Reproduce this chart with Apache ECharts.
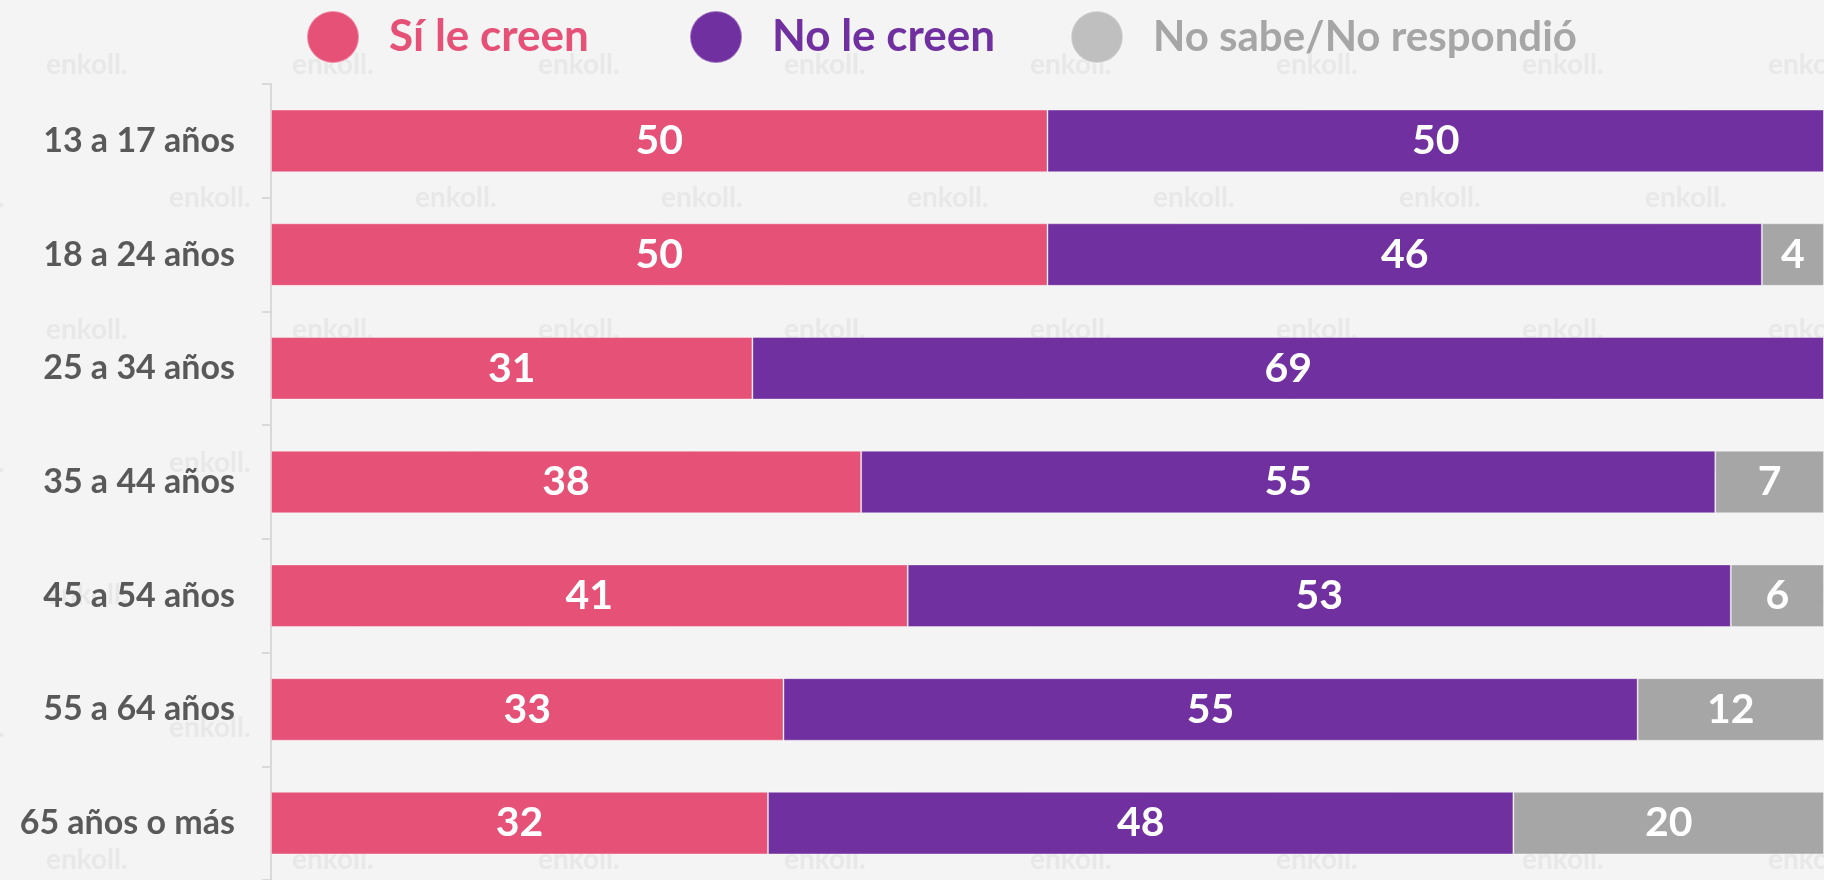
<!DOCTYPE html>
<html>
<head>
<meta charset="utf-8">
<script src="https://cdn.jsdelivr.net/npm/echarts@6/dist/echarts.min.js"></script>
<style>
html,body{margin:0;padding:0;background:#f4f4f4;}
#c{width:1824px;height:880px;}
</style>
</head>
<body>
<div id="c"></div>
<script>
const categories = ['13 a 17 años','18 a 24 años','25 a 34 años','35 a 44 años','45 a 54 años','55 a 64 años','65 años o más'];
const siLeCreen = [50, 50, 31, 38, 41, 33, 32];
const noLeCreen = [50, 46, 69, 55, 53, 55, 48];
const noSabe = [0, 4, 0, 7, 6, 12, 20];
const seriesNames = ['Sí le creen', 'No le creen', 'No sabe/No respondió'];
const barColors = ['#E65277', '#7030A0', '#A6A6A6'];
const legendIconColors = ['#E65277', '#7030A0', '#BFBFBF'];
const legendTextColors = ['#E65277', '#7030A0', '#A6A6A6'];
const legendLefts = [306, 689, 1070];
const legendFontSizes = [44, 44, 42];

const FONT = 'Lato';
const chart = echarts.init(document.getElementById('c'));
const values = [siLeCreen, noLeCreen, noSabe];
const series = values.map((v, i) => ({
  name: seriesNames[i],
  type: 'bar',
  stack: 'total',
  barCategoryGap: '45%',
  data: v,
  z: 3,
  itemStyle: { color: barColors[i], borderColor: 'rgba(255,255,255,0.35)', borderWidth: 1 },
  label: {
    show: true,
    position: 'inside',
    color: '#ffffff',
    fontFamily: FONT,
    fontWeight: 'bold',
    fontSize: 41,
    formatter: p => (p.value ? String(p.value) : '')
  }
}));

// faint "enkoll." watermark tiles (decoration)
const watermark = [];
for (let r = 0; r < 7; r++) {
  const y = 65 + r * 132.5;
  const x0 = r % 2 === 0 ? 46 : 169;
  for (let x = x0 - 246; x < 1824; x += 246) {
    watermark.push({
      type: 'text', z: 0, silent: true,
      style: { x: x, y: y, text: 'enkoll.', fill: '#e8e8e8', font: 'bold 28px Lato', textVerticalAlign: 'middle' }
    });
  }
}

chart.setOption({
  backgroundColor: '#f4f4f4',
  animation: false,
  graphic: watermark,
  legend: seriesNames.map((n, i) => ({
    left: legendLefts[i],
    top: 10,
    padding: 0,
    icon: 'circle',
    itemWidth: 52,
    itemHeight: 52,
    data: [{ name: n, itemStyle: { color: legendIconColors[i] }, textStyle: { color: legendTextColors[i] } }],
    textStyle: { fontFamily: FONT, fontWeight: 'bold', fontSize: legendFontSizes[i], padding: [0, 0, 0, 25] }
  })),
  grid: { left: 271, right: 0, top: 84, bottom: -5, containLabel: false },
  xAxis: { type: 'value', min: 0, max: 100, show: false },
  yAxis: {
    type: 'category',
    inverse: true,
    data: categories,
    axisLine: { show: true, lineStyle: { color: '#d9d9d9', width: 2 } },
    axisTick: { show: true, length: 9, lineStyle: { color: '#d9d9d9', width: 2 } },
    axisLabel: { color: '#595959', fontFamily: FONT, fontWeight: 'bold', fontSize: 34, margin: 36 }
  },
  series: series
});
</script>
</body>
</html>
